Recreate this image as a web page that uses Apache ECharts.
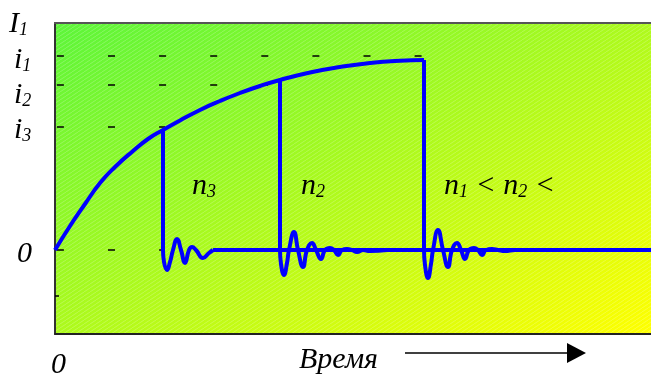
<!DOCTYPE html>
<html>
<head>
<meta charset="utf-8">
<script src="https://cdn.jsdelivr.net/npm/echarts@6/dist/echarts.min.js"></script>
<style>
    html, body { margin: 0; padding: 0; background: #fff; }
    #chart { width: 651px; height: 375px; }
</style>
</head>
<body>
<div id="chart"></div>
<script>
// time runs left->right (arbitrary units), current up (0 = no current)
const chargeT = [0, 15, 30, 45, 60, 78, 93, 108, 125, 145, 165, 185, 205, 225, 255, 285, 315, 345, 369]
const chargeI = [0, 24, 46, 67, 83, 99, 111, 120, 129.5, 140, 149, 157, 164, 170, 177.5, 183, 187, 189.3, 190]

// switch-off moments: where the current drops to zero
const dropT = [108, 225, 369]
const dropI = [120, 170, 190]

// ringing after each switch-off
const ring3T = [108, 109, 112, 115, 118, 122, 126, 130, 134, 137, 141, 148, 154, 158]
const ring3I = [0, -12, -20, -12, 0, 11, 0, -13, 0, 3, 0, -8, -3, 0]
const ring2T = [225, 226, 229, 232, 234, 239, 243, 248, 252, 257, 261, 266, 270, 275, 279, 283, 287, 292, 297, 302, 308, 315, 332]
const ring2I = [0, -14, -25, -13, 0, 18, 0, -17, 0, 7, 0, -9, 0, 2, 0, -5, 0, 1, 0, -2, 0, -1, 0]
const ring1T = [369, 370, 373, 376, 378, 383, 388, 393, 397, 402, 406, 410, 414, 419, 423, 427, 431, 437, 443, 450, 460, 472]
const ring1I = [0, -15, -28, -14, 0, 20, 0, -17, 0, 7, 0, -9, 0, 2, 0, -5, 0, 1, 0, -1, 0, 0]

const baseT = [158, 596]
const baseI = [0, 0]

// current levels i1, i2, i3, 0 and how far their dashed guide runs
const levelI = [194, 165, 123, 0]
const levelEndT = [369, 213, 110, 110]
const lowTickI = -46

const tMax = 596
const iMin = -84
const iMax = 227

// labels: [text, isSubscript]
const axisTitle = [['I', 0], ['1', 1]]
const levelLabels = [[['i', 0], ['1', 1]], [['i', 0], ['2', 1]], [['i', 0], ['3', 1]], [['0', 0]]]
const curveLabels = [
    [['n', 0], ['3', 1]],
    [['n', 0], ['2', 1]],
    [['n', 0], ['1', 1], [' < ', 0], ['n', 0], ['2', 1], [' <', 0]]
]
const originLabel = [['0', 0]]
const timeLabel = [['Время', 0]]

const serif = '"Liberation Serif", "DejaVu Serif", serif'
const measure = document.createElement('canvas').getContext('2d')
measure.textBaseline = 'middle'

// lay out a run of italic text with subscripts, starting at x on the given baseline
function textRun(pieces, x, baseline) {
    const out = []
    pieces.forEach(([text, sub]) => {
        const size = sub ? 18 : 30
        const font = 'italic ' + size + 'px ' + serif
        measure.font = font
        const drop = measure.measureText('x').actualBoundingBoxDescent
        out.push({
            type: 'text',
            z: 20,
            silent: true,
            style: {
                x: x,
                y: baseline + (sub ? 3 : 0) - drop,
                text: text,
                font: font,
                fill: '#000',
                verticalAlign: 'middle'
            }
        })
        x += measure.measureText(text).width
    })
    return out
}

// faint diagonal hatching over the background
function hatchTile() {
    const c = document.createElement('canvas')
    c.width = 6
    c.height = 4
    const g = c.getContext('2d')
    g.strokeStyle = 'rgba(255,255,255,0.22)'
    g.lineWidth = 1
    for (let k = -1; k <= 1; k++) {
        g.beginPath()
        g.moveTo(k * 6, 4)
        g.lineTo(k * 6 + 6, 0)
        g.stroke()
    }
    return c
}

const zip = (a, b) => a.map((v, i) => [v, b[i]])

const chart = echarts.init(document.getElementById('chart'), null, { renderer: 'canvas' })

const blue = '#0000ff'
const series = []

levelI.forEach((v, i) => {
    series.push({
        type: 'line',
        data: [[0, v], [levelEndT[i], v]],
        symbol: 'none',
        z: 2,
        lineStyle: { color: '#000', width: 1.3, type: [7, 44.1], dashOffset: 49.2 }
    })
})
series.push({
    type: 'line',
    data: [[0, lowTickI], [4, lowTickI]],
    symbol: 'none',
    z: 2,
    lineStyle: { color: '#000', width: 1.3 }
})

series.push({
    type: 'line',
    data: zip(chargeT, chargeI),
    symbol: 'none',
    smooth: 0.5,
    z: 4,
    lineStyle: { color: blue, width: 4 }
})
dropT.forEach((t, i) => {
    series.push({
        type: 'line',
        data: [[t, dropI[i]], [t, 0]],
        symbol: 'none',
        z: 4,
        lineStyle: { color: blue, width: 4 }
    })
})
;[[ring3T, ring3I], [ring2T, ring2I], [ring1T, ring1I]].forEach(([t, v]) => {
    series.push({
        type: 'line',
        data: zip(t, v),
        symbol: 'none',
        smooth: 0.5,
        z: 4,
        lineStyle: { color: blue, width: 4 }
    })
})
series.push({
    type: 'line',
    data: zip(baseT, baseI),
    symbol: 'none',
    z: 4,
    lineStyle: { color: blue, width: 4 }
})

let graphics = [
    {
        type: 'rect',
        z: -2,
        silent: true,
        shape: { x: 55, y: 23, width: 596, height: 311 },
        style: {
            fill: new echarts.graphic.LinearGradient(55, 23, 310, 512, [
                { offset: 0, color: '#5cf53a' },
                { offset: 1, color: '#ffff00' }
            ], true)
        }
    },
    {
        type: 'rect',
        z: -1,
        silent: true,
        shape: { x: 55, y: 23, width: 596, height: 311 },
        style: { fill: { image: hatchTile(), repeat: 'repeat' } }
    },
    {
        type: 'line',
        z: 10,
        silent: true,
        shape: { x1: 54, y1: 23, x2: 651, y2: 23 },
        style: { stroke: '#555', lineWidth: 2 }
    },
    {
        type: 'line',
        z: 10,
        silent: true,
        shape: { x1: 405, y1: 353, x2: 570, y2: 353 },
        style: { stroke: '#000', lineWidth: 1.5 }
    },
    {
        type: 'polygon',
        z: 10,
        silent: true,
        shape: { points: [[567, 343], [586, 353], [567, 363]] },
        style: { fill: '#000' }
    }
]

graphics = graphics.concat(textRun(axisTitle, 9, 32))
const levelBase = [68, 103, 138, 262]
const levelX = [14, 14, 14, 17]
levelLabels.forEach((p, i) => { graphics = graphics.concat(textRun(p, levelX[i], levelBase[i])) })
const curveX = [192, 301, 444]
curveLabels.forEach((p, i) => { graphics = graphics.concat(textRun(p, curveX[i], 194)) })
graphics = graphics.concat(textRun(originLabel, 51, 373))
graphics = graphics.concat(textRun(timeLabel, 299, 368))

const option = {
    animation: false,
    backgroundColor: '#fff',
    grid: { left: 55, right: 0, top: 23, bottom: 41 },
    xAxis: {
        type: 'value',
        min: 0,
        max: tMax,
        axisLine: { show: true, onZero: false, lineStyle: { color: '#222', width: 2 } },
        axisTick: { show: false },
        axisLabel: { show: false },
        splitLine: { show: false }
    },
    yAxis: {
        type: 'value',
        min: iMin,
        max: iMax,
        axisLine: { show: true, onZero: false, lineStyle: { color: '#333', width: 2 } },
        axisTick: { show: false },
        axisLabel: { show: false },
        splitLine: { show: false }
    },
    graphic: graphics,
    series: series
}

chart.setOption(option)
</script>
</body>
</html>
